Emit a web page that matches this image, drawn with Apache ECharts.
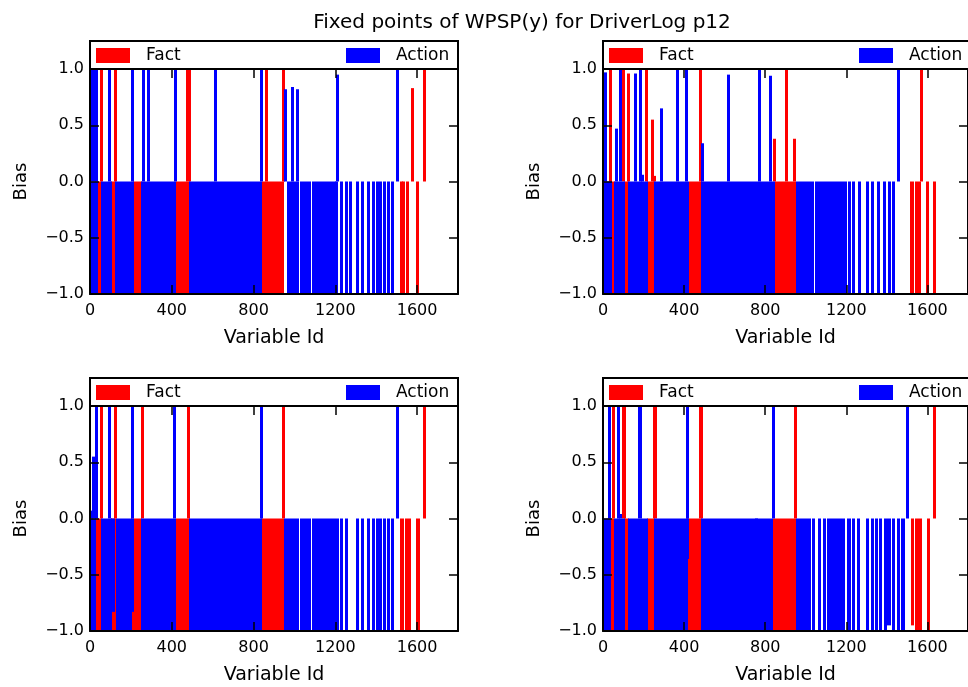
<!DOCTYPE html>
<html><head><meta charset="utf-8">
<script src="https://cdn.jsdelivr.net/npm/echarts@6/dist/echarts.min.js"></script>
<style>html,body{margin:0;padding:0;background:#fff}#c{width:968px;height:687px}</style>
</head><body><div id="c"></div>
<script>
// ---- Data: runs of variables [firstId, lastId, bias] ----
const titleText = 'Fixed points of WPSP(y) for DriverLog p12';
const seriesNames = ['Fact', 'Action'];
const xName = 'Variable Id';
const yName = 'Bias';
const xMin = 0, xMax = 1800, xStep = 400;
const yMin = -1, yMax = 1, yStep = 0.5;

const factP1 = [
 [38,54,-1],[54,58,1],
 [104,126,-1],[125,129,1],
 [214,252,-1],
 [421,486,-1],[470,490,1],
 [842,948,-1],[860,865,1],[945,949,1],
 [1519,1524,-1],[1532,1536,-1],[1548,1560,-1],[1576,1580,0.83],[1602,1606,-1],[1633,1637,1]
];
const actionP1 = [
 [0,37,-1],[2,8,1],[15,25,1],[31,36,1],
 [55,103,-1],[95,99,1],
 [127,213,-1],[205,209,1],
 [253,420,-1],[258,264,1],[286,290,1],[414,418,1],
 [487,607,-1],[610,614,1],[616,840,-1],[835,839,1],
 [952,956,0.82],[966,1022,-1],[990,994,0.84],[1015,1019,0.82],
 [1031,1050,-1],[1055,1079,-1],[1087,1096,-1],[1101,1150,-1],[1155,1175,-1],[1180,1200,-1],
 [1203,1207,-1],[1208,1212,0.95],
 [1226,1230,-1],[1251,1255,-1],[1272,1276,-1],[1304,1308,-1],[1332,1336,-1],[1360,1364,-1],
 [1383,1387,-1],[1402,1406,-1],[1419,1423,-1],[1438,1442,-1],[1458,1462,-1],[1479,1483,-1],
 [1503,1507,1]
];
const factP2 = [
 [34,40,1],[42,55,-1],
 [100,106,1],[108,127,-1],[122,128,0.96],
 [212,218,1],[220,253,-1],[239,245,0.55],[250,255,0.05],
 [425,486,-1],[477,483,1],
 [842,848,0.38],[849,949,-1],[904,910,1],[943,949,0.38],
 [1518,1530,-1],[1542,1549,-1],[1554,1563,-1],[1569,1577,1],[1596,1607,-1],[1628,1640,-1]
];
const actionP2 = [
 [0,41,-1],[2,6,0.15],[8,14,0.97],
 [55,107,-1],[64,70,0.47],[82,88,1],
 [127,219,-1],[155,161,0.96],[182,188,1],[194,200,0.06],
 [253,424,-1],[285,291,0.65],[363,369,1],[407,413,1],
 [487,846,-1],[488,494,0.34],[614,620,0.95],[769,775,1],[823,829,0.94],
 [952,1024,-1],[1030,1040,-1],[1046,1066,-1],[1071,1088,-1],[1093,1184,-1],
 [1196,1200,-1],[1212,1216,-1],[1235,1239,-1],[1261,1265,-1],[1300,1304,-1],[1325,1329,-1],
 [1359,1363,-1],[1387,1391,-1],[1411,1415,-1],[1432,1436,-1],
 [1455,1461,1]
];
const factP3 = [
 [29,54,-1],[52,58,1],
 [104,127,-1],[124,130,1],
 [204,253,-1],[252,258,1],
 [421,486,-1],[480,486,1],
 [841,947,-1],[945,951,1],
 [1519,1532,-1],[1543,1551,-1],[1560,1568,-1],[1597,1610,-1],[1630,1640,1]
];
const actionP3 = [
 [0,28,-1],[3,8,0.07],[10,25,0.55],[30,38,1],
 [55,103,-1],[94,100,1],[104,120,-0.83],
 [128,203,-1],[203,210,1],[204,212,-0.83],
 [253,420,-1],[412,418,1],
 [487,840,-1],[835,841,1],
 [950,960,-1],[966,1022,-1],[1031,1050,-1],[1055,1079,-1],[1087,1096,-1],[1101,1200,-1],
 [1210,1214,-1],[1226,1230,-1],[1251,1255,-1],[1304,1308,-1],[1332,1336,-1],[1360,1364,-1],
 [1383,1387,-1],[1402,1406,-1],[1419,1423,-1],[1438,1442,-1],[1458,1462,-1],[1479,1483,-1],
 [1500,1506,1]
];
const factP4 = [
 [37,54,-1],[46,55,1],
 [98,110,1],[108,127,-1],
 [220,253,-1],[249,262,1],
 [417,486,-1],[478,491,1],
 [839,950,-1],[945,951,1],
 [1521,1532,-0.95],[1543,1555,-1],[1559,1570,-1],[1600,1612,-1],[1630,1640,1]
];
const actionP4 = [
 [0,36,-1],[30,39,1],
 [55,107,-1],[70,81,1],[82,90,0.04],
 [127,219,-1],[176,189,1],
 [253,416,-1],[412,420,1],[415,422,-0.36],
 [487,755,-1],[756,760,-0.28],[761,838,-1],[838,844,1],
 [955,1021,-1],[1032,1045,-1],[1061,1073,-1],[1086,1097,-1],[1107,1175,-1],[1183,1192,-1],
 [1204,1221,-1],[1229,1240,-1],[1253,1265,-1],[1297,1309,-1],[1322,1335,-1],[1346,1355,-1],
 [1363,1374,-1],[1387,1395,-1],[1403,1416,-0.95],[1428,1436,-1],[1452,1464,-1],[1473,1485,-1],
 [1500,1506,1]
];

const factData = [factP1, factP2, factP3, factP4];
const actionData = [actionP1, actionP2, actionP3, actionP4];
const colors = ['#ff0000', '#0000ff'];

// ---- Layout ----
const FONT = 'DejaVu Sans';
const panels = [
  {left: 90, top: 69}, {left: 603, top: 69},
  {left: 90, top: 406}, {left: 603, top: 406}
];
const PW = 368, PH = 225;

function renderSeg(params, api) {
  const a = api.value(0), b = api.value(1), v = api.value(2);
  const p0 = api.coord([a, 0]);
  const p1 = api.coord([b, v]);
  let xa = p0[0], xb = p1[0];
  if (xb - xa < 2) { const c = (xa + xb) / 2; xa = c - 1; xb = c + 1; }
  xa = Math.floor(xa); xb = Math.ceil(xb);
  const y = Math.min(p0[1], p1[1]);
  const h = Math.abs(p1[1] - p0[1]);
  return {type: 'rect', shape: {x: xa, y: y, width: xb - xa, height: h},
          style: {fill: api.visual('color')}};
}

const fmtY = v => (v < 0 ? '\u2212' : '') + Math.abs(v).toFixed(1);
const fmtX = v => String(v);
const axisLineStyle = {show: true, onZero: false, lineStyle: {color: '#000', width: 2}};
const tickStyle = {show: true, inside: true, length: 9, lineStyle: {color: '#000', width: 1.5}};

const grid = [], xAxis = [], yAxis = [], series = [], legend = [], graphic = [];
panels.forEach((p, i) => {
  grid.push({left: p.left, top: p.top, width: PW, height: PH, containLabel: false});
  xAxis.push({
    gridIndex: i, type: 'value', position: 'bottom', min: xMin, max: xMax, interval: xStep, z: 10,
    axisLine: axisLineStyle, axisTick: tickStyle, splitLine: {show: false},
    axisLabel: {fontSize: 16, color: '#000', margin: 9, fontFamily: FONT, showMaxLabel: false, formatter: fmtX},
    name: xName, nameLocation: 'middle', nameGap: 35,
    nameTextStyle: {fontSize: 19, color: '#000', fontFamily: FONT}
  });
  xAxis.push({
    gridIndex: i, type: 'value', position: 'top', min: xMin, max: xMax, interval: xStep, z: 10,
    axisLine: axisLineStyle, axisTick: tickStyle, splitLine: {show: false},
    axisLabel: {show: false}
  });
  yAxis.push({
    gridIndex: i, type: 'value', position: 'left', min: yMin, max: yMax, interval: yStep, z: 10,
    axisLine: axisLineStyle, axisTick: tickStyle, splitLine: {show: false},
    axisLabel: {fontSize: 16, color: '#000', margin: 6, fontFamily: FONT, formatter: fmtY},
    name: yName, nameLocation: 'middle', nameGap: 60, nameRotate: 90,
    nameTextStyle: {fontSize: 18, color: '#000', fontFamily: FONT}
  });
  yAxis.push({
    gridIndex: i, type: 'value', position: 'right', min: yMin, max: yMax, interval: yStep, z: 10,
    axisLine: axisLineStyle, axisTick: tickStyle, splitLine: {show: false},
    axisLabel: {show: false}
  });
  [factData[i], actionData[i]].forEach((d, k) => {
    series.push({
      type: 'custom', name: seriesNames[k], xAxisIndex: 2 * i, yAxisIndex: 2 * i,
      renderItem: renderSeg, clip: true, color: colors[k],
      encode: {x: [0, 1], y: 2}, data: d, z: 2 + k, silent: true
    });
  });
  const legTop = p.top - 22;
  const common = {
    top: legTop, padding: 0, icon: 'rect', itemWidth: 34, itemHeight: 15,
    selectedMode: false, z: 6,
    textStyle: {fontSize: 17, color: '#000', fontFamily: FONT, padding: [0, 0, 0, 11]}
  };
  legend.push(Object.assign({data: [seriesNames[0]], left: p.left + 6}, common));
  legend.push(Object.assign({data: [seriesNames[1]], left: p.left + 256}, common));
  graphic.push({
    type: 'rect', z: 5, silent: true,
    shape: {x: p.left, y: p.top - 28, width: PW, height: 28},
    style: {fill: '#fff', stroke: '#000', lineWidth: 2}
  });
});

const chart = echarts.init(document.getElementById('c'), null, {renderer: 'canvas'});
chart.setOption({
  animation: false,
  backgroundColor: '#fff',
  title: {
    text: titleText, left: 517, top: 8, textAlign: 'center',
    textStyle: {fontSize: 20, fontWeight: 'normal', color: '#000', fontFamily: FONT}
  },
  grid, xAxis, yAxis, series, legend, graphic
});
</script></body></html>
